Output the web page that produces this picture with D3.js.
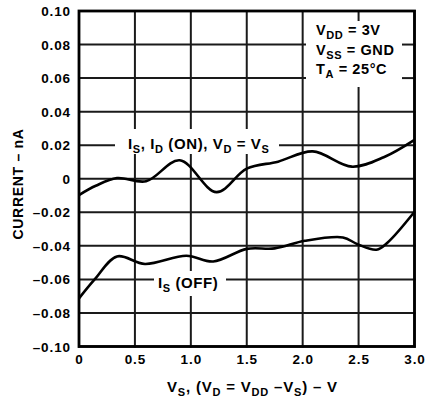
<!DOCTYPE html>
<html>
<head>
<meta charset="utf-8">
<script src="https://cdn.jsdelivr.net/npm/d3@7"></script>
<style>
  html, body { margin: 0; padding: 0; background: #fff; }
  svg { display: block; }
  text { font-family: "Liberation Sans", Arial, Helvetica, sans-serif; font-weight: bold; fill: #000; }
</style>
</head>
<body>
<svg id="chart" width="425" height="400"></svg>
<script>
// ---- data ----
const xTicks = [0, 0.5, 1.0, 1.5, 2.0, 2.5, 3.0];
const xTickLabels = ["0", "0.5", "1.0", "1.5", "2.0", "2.5", "3.0"];
const yTicks = [0.10, 0.08, 0.06, 0.04, 0.02, 0, -0.02, -0.04, -0.06, -0.08, -0.10];
const yTickLabels = ["0.10", "0.08", "0.06", "0.04", "0.02", "0", "–0.02", "–0.04", "–0.06", "–0.08", "–0.10"];

const onV   = [0, 0.15, 0.34, 0.60, 0.90, 1.23, 1.50, 1.78, 2.09, 2.44, 2.73, 3.0];
const onI   = [-0.0097, -0.0042, 0.0004, -0.0015, 0.011, -0.008, 0.006, 0.0102, 0.0163, 0.0072, 0.013, 0.0232];
const offV  = [0, 0.14, 0.34, 0.59, 0.96, 1.20, 1.50, 1.75, 2.02, 2.36, 2.49, 2.66, 2.76, 3.0];
const offI  = [-0.0713, -0.060, -0.0463, -0.0508, -0.0459, -0.0493, -0.0418, -0.0415, -0.0370, -0.0350, -0.0390, -0.0423, -0.0380, -0.0197];

// ---- layout ----
const svg = d3.select("#chart");
const x = d3.scaleLinear().domain([0, 3]).range([79, 414.5]);
const y = d3.scaleLinear().domain([-0.10, 0.10]).range([346.5, 11]);
const W = x(3) - x(0), H = y(-0.10) - y(0.10);

// label boxes that keep the grid clear (pixel boxes: [x0, y0, x1, y1])
const boxes = [
  [114, 128, 280, 155],
  [153, 270, 227, 297],
  [305, 20, 403, 88]
];

// gridline segments built from the scales, broken where label boxes sit
const gridPts = [];
xTicks.forEach(d => {
  const px = x(d);
  let y0 = y(0.10);
  boxes.filter(b => px > b[0] && px < b[2]).sort((a, b) => a[1] - b[1]).forEach(b => {
    gridPts.push([[px, y0], [px, b[1]]]); y0 = b[3];
  });
  gridPts.push([[px, y0], [px, y(-0.10)]]);
});
yTicks.forEach(d => {
  const py = y(d);
  let x0 = x(0);
  boxes.filter(b => py > b[1] && py < b[3]).sort((a, b) => a[0] - b[0]).forEach(b => {
    gridPts.push([[x0, py], [b[0], py]]); x0 = b[2];
  });
  gridPts.push([[x0, py], [x(3), py]]);
});
const seg = d3.line();
svg.append("g").attr("id", "plot-grid").selectAll("path").data(gridPts).enter().append("path")
  .attr("d", d => seg(d))
  .attr("fill", "none").attr("stroke", "#1a1a1a").attr("stroke-width", 2)
  .attr("stroke-linecap", "square");

// curves
const lineGen = d3.line().x(d => x(d[0])).y(d => y(d[1])).curve(d3.curveCatmullRom.alpha(0.5));
svg.append("path").datum(onV.map((v, i) => [v, onI[i]]))
  .attr("d", lineGen).attr("fill", "none").attr("stroke", "#000").attr("stroke-width", 2.6).attr("stroke-linejoin", "round");
svg.append("path").datum(offV.map((v, i) => [v, offI[i]]))
  .attr("d", lineGen).attr("fill", "none").attr("stroke", "#000").attr("stroke-width", 2.6).attr("stroke-linejoin", "round");

// frame
svg.append("rect").attr("x", x(0)).attr("y", y(0.10))
  .attr("width", W).attr("height", H)
  .attr("fill", "none").attr("stroke", "#000").attr("stroke-width", 2.8);

// tick labels via d3 axes
const yAxis = d3.axisLeft(y).tickValues(yTicks).tickSize(0).tickPadding(9)
  .tickFormat((d, i) => yTickLabels[i]);
const gy = svg.append("g").attr("transform", `translate(${x(0)},0)`).call(yAxis);
gy.select(".domain").remove();
gy.selectAll("text").attr("font-size", 13.5).attr("letter-spacing", 0.9)
  .attr("font-family", null).attr("dy", "0.34em").attr("dx", 1);

const xAxis = d3.axisBottom(x).tickValues(xTicks).tickSize(0).tickPadding(8)
  .tickFormat((d, i) => xTickLabels[i]);
const gx = svg.append("g").attr("transform", `translate(0,${y(-0.10)})`).call(xAxis);
gx.select(".domain").remove();
gx.selectAll("text").attr("font-size", 13.5).attr("letter-spacing", 0.9).attr("font-family", null);

// rich text helper: parts [text, isSub]
function rich(sel, parts, size, subSize) {
  let sub = false;
  parts.forEach(([t, s]) => {
    const ts = sel.append("tspan").text(t).attr("font-size", s ? subSize : size);
    if (s && !sub) ts.attr("dy", 3.5);
    if (!s && sub) ts.attr("dy", -3.5);
    sub = s;
  });
  return sel;
}

// curve labels
rich(svg.append("text").attr("x", 128).attr("y", 149).attr("letter-spacing", 0.6),
  [["I", 0], ["S", 1], [", I", 0], ["D", 1], [" (ON), V", 0], ["D", 1], [" = V", 0], ["S", 1]], 15, 11);
rich(svg.append("text").attr("x", 158).attr("y", 288).attr("letter-spacing", 0.6),
  [["I", 0], ["S", 1], [" (OFF)", 0]], 15, 11);

// conditions
rich(svg.append("text").attr("x", 316).attr("y", 35).attr("letter-spacing", 0.6),
  [["V", 0], ["DD", 1], [" = 3V", 0]], 14.5, 11);
rich(svg.append("text").attr("x", 316).attr("y", 55).attr("letter-spacing", 0.6),
  [["V", 0], ["SS", 1], [" = GND", 0]], 14.5, 11);
rich(svg.append("text").attr("x", 316).attr("y", 74).attr("letter-spacing", 0.6),
  [["T", 0], ["A", 1], [" = 25°C", 0]], 14.5, 11);

// axis titles
rich(svg.append("text").attr("x", 167).attr("y", 392).attr("letter-spacing", 0.8),
  [["V", 0], ["S", 1], [", (V", 0], ["D", 1], [" = V", 0], ["DD", 1], [" –V", 0], ["S", 1], [") – V", 0]], 15, 11);
svg.append("text").attr("transform", "translate(23,184) rotate(-90)")
  .attr("text-anchor", "middle").attr("font-size", 14).attr("letter-spacing", 0.7).text("CURRENT – nA");
</script>
</body>
</html>
